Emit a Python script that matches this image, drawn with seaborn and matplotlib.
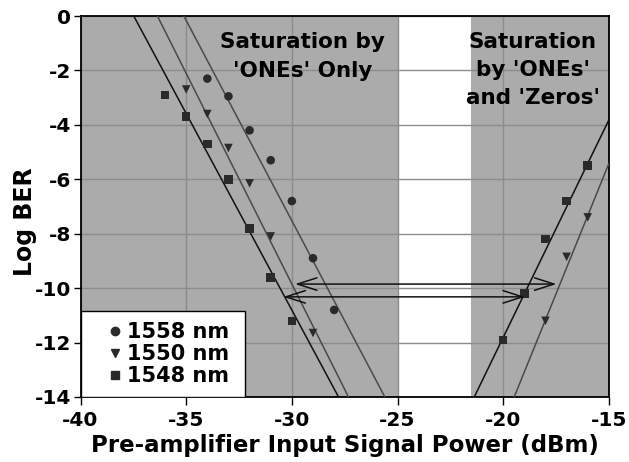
import matplotlib
matplotlib.use("Agg")
import matplotlib.pyplot as plt
import seaborn as sns
import numpy as np
import pandas as pd
from matplotlib.lines import Line2D
from matplotlib.patches import Rectangle

# ---- data ----
x_1558 = [-34, -33, -32, -31, -30, -29, -28]
y_1558 = [-2.3, -2.95, -4.2, -5.3, -6.8, -8.9, -10.8]

x_1550 = [-35, -34, -33, -32, -31, -29, -18, -17, -16]
y_1550 = [-2.7, -3.6, -4.85, -6.15, -8.1, -11.65, -11.2, -8.85, -7.4]

x_1548 = [-36, -35, -34, -33, -32, -31, -30, -20, -19, -18, -17, -16]
y_1548 = [-2.9, -3.7, -4.7, -6.0, -7.8, -9.6, -11.2, -11.9, -10.2, -8.2, -6.8, -5.5]

# fitted trend lines (end points)
fit_1548_left_x = [-37.48, -27.79]
fit_1548_left_y = [0, -14]
fit_1550_left_x = [-36.36, -27.32]
fit_1550_left_y = [0, -14]
fit_1558_left_x = [-35.11, -25.6]
fit_1558_left_y = [0, -14]
fit_1548_right_x = [-21.37, -15]
fit_1548_right_y = [-14, -3.82]
fit_1550_right_x = [-19.48, -15]
fit_1550_right_y = [-14, -5.42]

# double arrows (power penalty span)
arrow_upper = ([-29.85, -17.48], -9.85)
arrow_lower = ([-30.4, -18.97], -10.32)

white_band = (-25, -21.5)

x_ticks = [-40, -35, -30, -25, -20, -15]
y_ticks = [0, -2, -4, -6, -8, -10, -12, -14]

labels = ["1558 nm", "1550 nm", "1548 nm"]
markers = {"1558 nm": "o", "1550 nm": "v", "1548 nm": "s"}

df = pd.concat([
    pd.DataFrame({"power": x_1558, "logber": y_1558, "wl": "1558 nm"}),
    pd.DataFrame({"power": x_1550, "logber": y_1550, "wl": "1550 nm"}),
    pd.DataFrame({"power": x_1548, "logber": y_1548, "wl": "1548 nm"}),
], ignore_index=True)

sns.set_style("ticks")
plt.rcParams["font.family"] = ["DejaVu Sans"]
plt.rcParams["font.weight"] = "bold"
plt.rcParams["text.color"] = "black"
plt.rcParams["axes.labelcolor"] = "black"
plt.rcParams["xtick.color"] = "black"
plt.rcParams["ytick.color"] = "black"

fig = plt.figure(figsize=(6.29, 4.62), dpi=100)
ax = fig.add_axes([0.128, 0.1407, 0.84, 0.8246])

ax.set_facecolor("#ababab")
ax.axvspan(white_band[0], white_band[1], color="white", zorder=0.2, lw=0)
ax.set_axisbelow(True)
ax.grid(True, color="#8c8c8c", lw=1.0)

# trend lines
lines = [
    (fit_1548_left_x, fit_1548_left_y, "#111111"),
    (fit_1550_left_x, fit_1550_left_y, "#4a4a4a"),
    (fit_1558_left_x, fit_1558_left_y, "#4a4a4a"),
    (fit_1548_right_x, fit_1548_right_y, "#111111"),
    (fit_1550_right_x, fit_1550_right_y, "#4a4a4a"),
]
for lx, ly, c in lines:
    sns.lineplot(x=lx, y=ly, ax=ax, color=c, lw=1.1, zorder=3)

sns.scatterplot(data=df, x="power", y="logber", style="wl", markers=markers,
                style_order=labels, color="#2a2a2a", s=38, edgecolor="none",
                ax=ax, zorder=4, legend=False)

for (xs, yv) in (arrow_upper, arrow_lower):
    ax.annotate("", xy=(xs[1], yv), xytext=(xs[0], yv),
                arrowprops=dict(arrowstyle="<->,head_length=1.4,head_width=0.45",
                                color="#111111", lw=1.1, shrinkA=0, shrinkB=0),
                zorder=5)

ax.text(-29.5, -1.5, "Saturation by\n'ONEs' Only", ha="center", va="center",
        fontsize=15.5, fontweight="bold", linespacing=1.55, zorder=6)
ax.text(-18.6, -2.0, "Saturation\nby 'ONEs'\nand 'Zeros'", ha="center", va="center",
        fontsize=15.5, fontweight="bold", linespacing=1.5, zorder=6)

ax.set_xlim(-40, -15)
ax.set_ylim(-14, 0)
ax.set_xticks(x_ticks)
ax.set_yticks(y_ticks)
ax.set_xticklabels([str(t) for t in x_ticks], fontsize=14.5, fontweight="bold")
ax.set_yticklabels([str(t) for t in y_ticks], fontsize=14.5, fontweight="bold")
ax.tick_params(axis="x", length=6, width=1, pad=4, color="black")
ax.tick_params(axis="y", length=5, width=1, pad=2, color="black")
for sp in ax.spines.values():
    sp.set_visible(True)
    sp.set_color("black")
    sp.set_linewidth(1.3)

ax.set_xlabel("Pre-amplifier Input Signal Power (dBm)", fontsize=16.5, fontweight="bold", labelpad=3)
ax.set_ylabel("Log BER", fontsize=17, fontweight="bold")
ax.yaxis.set_label_coords(-0.083, 0.46)

# legend box
ax.add_patch(Rectangle((0, 0), 0.311, 0.226, transform=ax.transAxes,
                       facecolor="white", edgecolor="black", lw=1.0, zorder=6.5))
handles = [Line2D([], [], ls="none", marker=markers[l], color="#2a2a2a", markersize=6) for l in labels]
leg = ax.legend(handles, labels, loc="center", bbox_to_anchor=(0.012, 0.0, 0.311, 0.226),
                frameon=False, prop={"size": 15, "weight": "bold"}, handlelength=0.6,
                handletextpad=0.25, labelspacing=0.1, borderpad=0.0, borderaxespad=0)
leg.set_zorder(7)

fig.savefig("out.png", dpi=100)
